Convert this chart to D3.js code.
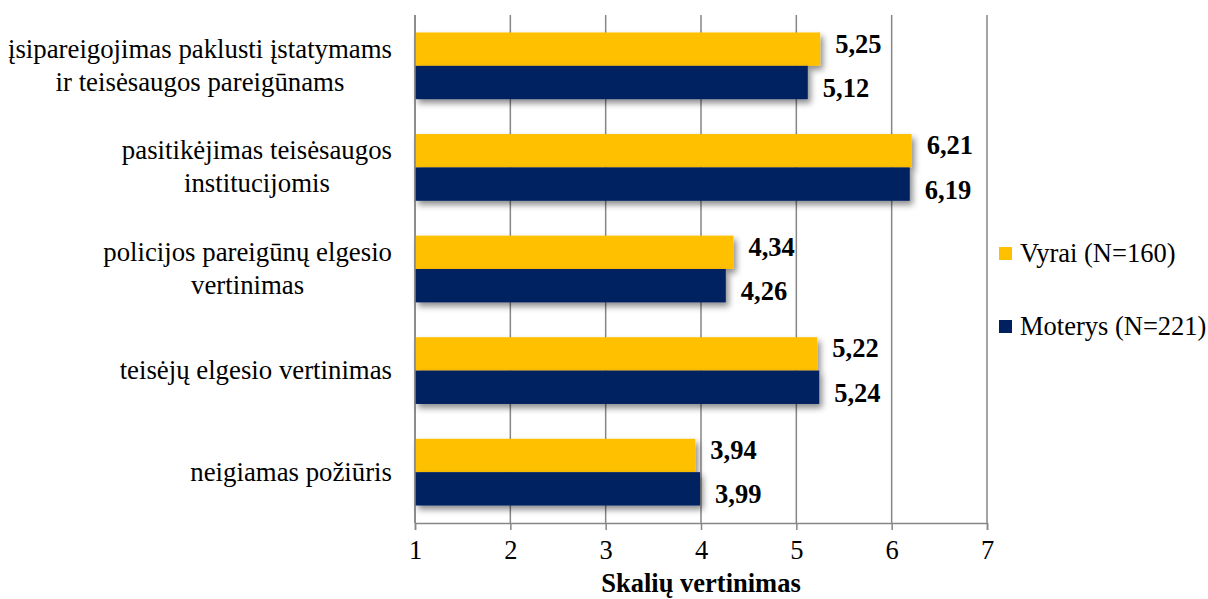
<!DOCTYPE html>
<html><head><meta charset="utf-8">
<script src="https://cdn.jsdelivr.net/npm/d3@7"></script>
<style>html,body{margin:0;padding:0;background:#fff;} svg{display:block;} text{font-family:"Liberation Serif","Tinos","Times New Roman","DejaVu Serif",serif;}</style>
</head><body>
<svg id="chart" width="1208" height="599"></svg>
<script>
const categories = [
  "įsipareigojimas paklusti įstatymams\nir teisėsaugos pareigūnams",
  "pasitikėjimas teisėsaugos\ninstitucijomis",
  "policijos pareigūnų elgesio\nvertinimas",
  "teisėjų elgesio vertinimas",
  "neigiamas požiūris"
];
const seriesNames = ["Vyrai (N=160)", "Moterys (N=221)"];
const vyrai = [5.25, 6.21, 4.34, 5.22, 3.94];
const moterys = [5.12, 6.19, 4.26, 5.24, 3.99];
const xTicks = [1, 2, 3, 4, 5, 6, 7];
const xTitle = "Skalių vertinimas";
const colors = ["#FFC000", "#002060"];

const svg = d3.select("#chart");
const fs = 26.5;
const x = d3.scaleLinear().domain([1, 7]).range([415, 987]);
const y = d3.scaleBand().domain(categories).range([15, 523]).paddingInner(0.343).paddingOuter(0.172);
const ys = d3.scaleBand().domain(seriesNames).range([0, y.bandwidth()]);
const values = [vyrai, moterys];

const defs = svg.append("defs");
const f = defs.append("filter").attr("id", "sh").attr("x", "-10%").attr("y", "-30%").attr("width", "130%").attr("height", "180%");
f.append("feDropShadow").attr("dx", 3).attr("dy", 4).attr("stdDeviation", 3).attr("flood-color", "#000").attr("flood-opacity", 0.45);

// gridlines
svg.append("g").selectAll("line").data(xTicks).join("line")
  .attr("x1", d => x(d)).attr("x2", d => x(d))
  .attr("y1", 15).attr("y2", 523)
  .attr("stroke", "#868686").attr("stroke-width", 1.5);

// bars
const gBars = svg.append("g");
categories.forEach((c, i) => {
  seriesNames.forEach((s, j) => {
    gBars.append("rect")
      .attr("x", x(1)).attr("y", y(c) + ys(s))
      .attr("width", x(values[j][i]) - x(1)).attr("height", ys.bandwidth())
      .attr("fill", colors[j]).attr("filter", "url(#sh)");
  });
});

// bottom axis
const ax = svg.append("g").attr("transform", "translate(0,523)")
  .call(d3.axisBottom(x).tickValues(xTicks).tickSize(7).tickPadding(10).tickFormat(d3.format("d")));
ax.attr("font-family", null);
ax.select(".domain").attr("stroke", "#868686").attr("stroke-width", 1.5);
ax.selectAll(".tick line").attr("stroke", "#868686").attr("stroke-width", 1.5);
ax.selectAll(".tick text").attr("font-size", fs).attr("fill", "#000").attr("dy", "0.72em");

// left axis line
svg.append("line").attr("x1", x(1)).attr("x2", x(1)).attr("y1", 15).attr("y2", 523)
  .attr("stroke", "#868686").attr("stroke-width", 1.5);

// x title
svg.append("text").attr("x", (x(1) + x(7)) / 2).attr("y", 592).attr("text-anchor", "middle")
  .attr("font-size", fs).attr("font-weight", "bold").text(xTitle);

// value labels
const fmt = v => v.toFixed(2).replace(".", ",");
const dyOff = [-5, 6];
categories.forEach((c, i) => {
  seriesNames.forEach((s, j) => {
    svg.append("text")
      .attr("x", x(values[j][i]) + 15)
      .attr("y", y(c) + ys(s) + ys.bandwidth() / 2 + dyOff[j] + 8.5)
      .attr("font-size", fs).attr("font-weight", "bold")
      .text(fmt(values[j][i]));
  });
});

// category labels
const lineH = 33;
categories.forEach(c => {
  const lines = c.split("\n");
  const g = svg.append("g");
  const cy = y(c) + y.bandwidth() / 2;
  const texts = lines.map((ln, k) => g.append("text")
    .attr("y", cy + (k - (lines.length - 1) / 2) * lineH + 8.5)
    .attr("font-size", 26.8).attr("text-anchor", "middle").text(ln));
  const maxW = d3.max(texts, t => t.node().getComputedTextLength());
  texts.forEach(t => t.attr("x", 392 - maxW / 2));
});

// legend
const legY = [253, 326];
seriesNames.forEach((s, j) => {
  svg.append("rect").attr("x", 999).attr("y", legY[j] - 6).attr("width", 13).attr("height", 13).attr("fill", colors[j]);
  svg.append("text").attr("x", 1020).attr("y", legY[j] + 8.5)
    .attr("font-size", fs).text(s);
});
</script>
</body></html>
